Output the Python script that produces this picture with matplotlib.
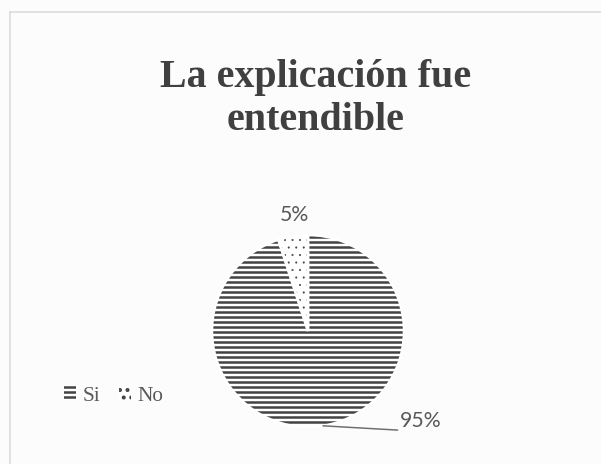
import matplotlib
matplotlib.use("Agg")
import matplotlib.pyplot as plt
import numpy as np

# respuestas de la encuesta
labels = ["Si", "No"]
values = [95, 5]
pct_text = ["95%", "5%"]
title = "La explicación fue\nentendible"

DPI = 90
W, H = 601, 464
BG = "#fcfcfc"
INK = "#434343"
TXT = "#595959"

plt.rcParams["hatch.linewidth"] = 2.0

fig = plt.figure(figsize=(W / DPI, H / DPI), dpi=DPI, facecolor=BG)

# marco del área del gráfico (solo arriba e izquierda se ven)
frame = fig.add_axes([0, 0, 1, 1], facecolor="none")
frame.set_xlim(0, W)
frame.set_ylim(H, 0)
frame.axis("off")
frame.plot([10, W], [12, 12], color="#d9d9d9", lw=1.2)
frame.plot([10, 10], [12, H], color="#d9d9d9", lw=1.2)

fig.text(316 / W, 1 - 99 / H, title, ha="center", va="center",
         fontsize=32, fontweight="bold", family="Liberation Serif",
         color="#404040", linespacing=1.22)

# pastel: centro (308, 331) px, radio 96 px
cx, cy, r = 308, 331, 96
half = 1.25 * r
ax = fig.add_axes([(cx - half) / W, (H - cy - half) / H, 2 * half / W, 2 * half / H])
wedges, _ = ax.pie(values, startangle=90, counterclock=False,
                   colors=["white", "white"], hatch=["---", ".."],
                   wedgeprops=dict(linewidth=0))
for w in wedges:
    w.set_edgecolor(INK)
    w.set_linewidth(0)
if hasattr(wedges[1], "set_hatch_linewidth"):
    wedges[1].set_hatch_linewidth(0.4)
# separación blanca entre porciones
ax.pie(values, startangle=90, counterclock=False, colors=["none", "none"],
       wedgeprops=dict(linewidth=2, edgecolor="white"))
ax.set_xlim(-1.25, 1.25)
ax.set_ylim(-1.25, 1.25)

# etiqueta 5% sobre la porción pequeña
w_no = wedges[1]
ang = np.deg2rad((w_no.theta1 + w_no.theta2) / 2)
ax.text(1.22 * np.cos(ang) + 0.05, 1.22 * np.sin(ang), pct_text[1],
        ha="center", va="center", fontsize=17, family="Lato", color=TXT)

# etiqueta 95% con línea guía
w_si = wedges[0]
ang = np.deg2rad((w_si.theta1 + w_si.theta2) / 2)
ax.annotate(pct_text[0], xy=(np.cos(ang), np.sin(ang)), xytext=(0.96, -0.94),
            ha="left", va="center", fontsize=17, family="Lato", color=TXT,
            annotation_clip=False,
            arrowprops=dict(arrowstyle="-", color="#6e6e6e", lw=1.2,
                            relpos=(0, 0.05), shrinkA=0, shrinkB=0))

leg = ax.legend(wedges, labels, loc="center left",
                bbox_to_anchor=(45 / W, 1 - 396 / H), bbox_transform=fig.transFigure,
                ncol=2, frameon=False, handlelength=0.55, handleheight=0.6,
                handletextpad=0.3, columnspacing=0.9,
                prop=dict(family="Liberation Serif", size=17))
for t in leg.get_texts():
    t.set_color(TXT)

fig.savefig("out.png", dpi=DPI, facecolor=BG)
